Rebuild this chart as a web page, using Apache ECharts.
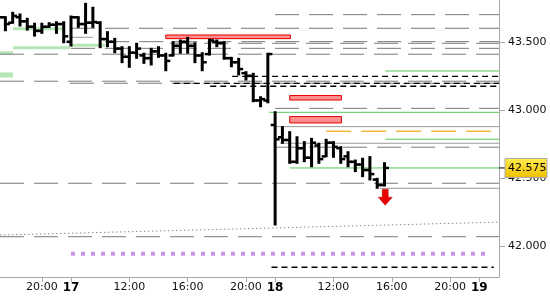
<!DOCTYPE html>
<html><head><meta charset="utf-8">
<script src="https://cdn.jsdelivr.net/npm/echarts@6/dist/echarts.min.js"></script>
<style>html,body{margin:0;padding:0;background:#fff}#c{width:550px;height:300px}</style>
</head><body><div id="c"></div>
<script>
// time slots: 30-minute bars, slot 0 = day 16 17:00, sessions 08:00-22:00
const xTickSlots = [6, 10, 18, 26, 34, 38, 46, 54, 62, 66];
const xTickLabels = ['20:00', '17', '12:00', '16:00', '20:00', '18', '12:00', '16:00', '20:00', '19'];
const dayLabels = ['17', '18', '19'];
const yTicks = [42.0, 42.5, 43.0, 43.5];

const opens  = [43.690,43.680,43.640,43.680,43.650,43.610,43.580,43.610,43.625,43.630,43.500,43.680,43.630,43.640,43.640,43.520,43.500,43.450,43.390,43.420,43.400,43.380,43.430,43.400,43.400,43.470,43.500,43.470,43.400,43.410,43.500,43.490,43.380,43.350,43.270,43.250,43.070,43.070,42.890,42.800,42.780,42.620,42.720,42.650,42.740,42.660,42.760,42.720,42.660,42.620,42.600,42.560,42.490,42.450];
const highs  = [43.700,43.684,43.716,43.704,43.672,43.636,43.636,43.640,43.647,43.647,43.689,43.684,43.782,43.753,43.647,43.574,43.525,43.464,43.464,43.489,43.416,43.452,43.464,43.416,43.501,43.513,43.533,43.493,43.420,43.518,43.513,43.501,43.386,43.379,43.281,43.269,43.097,43.416,42.987,42.878,42.841,42.804,42.768,42.792,42.756,42.785,42.768,42.731,42.694,42.633,42.646,42.658,42.499,42.614];
const lows   = [43.660,43.581,43.636,43.616,43.586,43.542,43.562,43.606,43.562,43.493,43.469,43.606,43.562,43.606,43.457,43.464,43.420,43.347,43.313,43.379,43.342,43.330,43.386,43.288,43.396,43.416,43.416,43.347,43.288,43.403,43.464,43.372,43.317,43.257,43.220,43.061,43.024,43.053,42.157,42.756,42.609,42.609,42.621,42.584,42.609,42.658,42.653,42.609,42.584,42.548,42.511,42.487,42.426,42.443];
const closes = [43.680,43.630,43.690,43.650,43.610,43.580,43.610,43.625,43.630,43.540,43.680,43.630,43.640,43.645,43.520,43.500,43.450,43.390,43.420,43.450,43.380,43.430,43.400,43.360,43.470,43.500,43.470,43.400,43.350,43.510,43.490,43.380,43.350,43.300,43.250,43.070,43.080,43.410,42.785,42.780,42.620,42.720,42.650,42.760,42.640,42.760,42.730,42.640,42.620,42.600,42.560,42.530,42.450,42.575];

const lastPrice = 42.575;

// horizontal levels: [price, fromSlot, toSlot]
const grayDashedLevels = [[43.699,38,68.71],[43.599,10,68.71],[43.501,14.7,68.71],[43.489,23.6,68.71],[43.452,10,68.71],[43.409,0.26,68.71],[43.211,0.26,68.71],[43.196,9.86,68.71],[43.012,38,68.71],[42.727,38,68.71],[42.463,0.26,68.71],[42.071,0.26,68.71]];
const graySolidLevels = [[43.533,10,13],[42.878,38,68.71],[42.756,38.7,68.71],[42.426,52.4,68.71]];
const greenLevels = [[43.286,53.1,68.71],[42.983,37.2,68.71],[42.786,53.1,68.71],[42.575,40,68.71]];
const orangeLevels = [[42.844,45,67.8]];
const blackDashedLevels = [[43.247,32.1,68.71],[43.195,24.1,68.71],[43.174,29.1,68.71],[41.847,37.5,68.0]];
const lightGreenLevels = [[43.596,2.04,9.2],[43.457,2.04,9.86],[43.474,10,14.7],[43.420,0.26,2.04]];
const lightGreenWideLevels = [[43.256,0.26,2.04]];
const purpleLevels = [[41.946,10,67.5]];
const trendLine = [[0.26,42.083],[68.71,42.178]];
// zones: [fromSlot, toSlot, priceTop, priceBottom]
const redZones = [[23.0,40.1,43.550,43.523],[40.0,47.1,43.106,43.073],[40.0,47.1,42.952,42.905]];
const arrowAt = [[53.1, 42.419]];

const X_MIN = 0.26, X_MAX = 68.71;
const Y_MIN = 41.7756, Y_MAX = 43.8064;
const FONT = 'DejaVu Sans';

const series = [];
function addLevels(levels, style, z) {
  levels.forEach(l => {
    series.push({type:'line', data:[[l[1], l[0]], [l[2], l[0]]], showSymbol:false, silent:true,
      animation:false, lineStyle:style, z:z || 2});
  });
}
addLevels(lightGreenLevels, {color:'rgba(120,210,120,0.55)', width:3, type:'solid'}, 1);
addLevels(lightGreenWideLevels, {color:'rgba(120,210,120,0.55)', width:5, type:'solid'}, 1);
addLevels(grayDashedLevels, {color:'#7a7a7a', width:1, type:[24,10]});
addLevels(graySolidLevels, {color:'#9a9a9a', width:1, type:'solid'});
addLevels(greenLevels, {color:'#55c855', width:1, type:'solid'});
addLevels(orangeLevels, {color:'#f5b840', width:1.5, type:[25,10]});
addLevels(blackDashedLevels, {color:'#000', width:1.3, type:[6,4]});
addLevels(purpleLevels, {color:'#c994e6', width:4, type:[4,6], cap:'butt'});
series.push({type:'line', data:trendLine, showSymbol:false, silent:true, animation:false,
  lineStyle:{color:'#8a8a8a', width:1, type:[1.5,2.5]}});

series.push({
  type:'custom', animation:false, silent:true, z:3,
  data: redZones,
  renderItem(params, api) {
    const p1 = api.coord([api.value(0), api.value(2)]);
    const p2 = api.coord([api.value(1), api.value(3)]);
    return {type:'rect', shape:{x:p1[0], y:p1[1], width:p2[0]-p1[0], height:p2[1]-p1[1]},
      style:{fill:'#ff8f8f', stroke:'#e60000', lineWidth:1}};
  }
});

series.push({
  type:'custom', animation:false, silent:true, z:4,
  data: opens.map((o, i) => [i, o, highs[i], lows[i], closes[i]]),
  encode:{x:0, y:[1,2,3,4]},
  renderItem(params, api) {
    const x = api.value(0);
    const pH = api.coord([x, api.value(2)]), pL = api.coord([x, api.value(3)]);
    const pO = api.coord([x, api.value(1)]), pC = api.coord([x, api.value(4)]);
    return {type:'group', children:[
      {type:'line', shape:{x1:pH[0], y1:pH[1]-0.5, x2:pL[0], y2:pL[1]+0.5}, style:{stroke:'#000', lineWidth:3}},
      {type:'line', shape:{x1:pO[0]-4.5, y1:pO[1], x2:pO[0], y2:pO[1]}, style:{stroke:'#000', lineWidth:2.5}},
      {type:'line', shape:{x1:pC[0], y1:pC[1], x2:pC[0]+4.5, y2:pC[1]}, style:{stroke:'#000', lineWidth:2.5}}
    ]};
  }
});

series.push({
  type:'custom', animation:false, silent:true, z:5,
  data: arrowAt,
  renderItem(params, api) {
    const p = api.coord([api.value(0), api.value(1)]);
    const x = p[0], y = p[1];
    return {type:'polygon', shape:{points:[[x-3,y],[x+3,y],[x+3,y+8],[x+7,y+8],[x,y+16],[x-7,y+8],[x-3,y+8]]},
      style:{fill:'#e80000', stroke:'#c00000', lineWidth:0.5}};
  }
});

series.push({
  type:'custom', animation:false, silent:true, z:10, clip:false,
  data: [[X_MAX, lastPrice]],
  renderItem(params, api) {
    const p = api.coord([api.value(0), api.value(1)]);
    const x = p[0], y = p[1];
    return {type:'group', children:[
      {type:'line', shape:{x1:x, y1:y, x2:x+6, y2:y}, style:{stroke:'#000', lineWidth:1}},
      {type:'rect', shape:{x:x+6, y:y-9.5, width:42, height:19},
        style:{fill:new echarts.graphic.LinearGradient(0,0,0,1,[{offset:0,color:'#ffec50'},{offset:1,color:'#f0c000'}]), stroke:'#a8a8a8', lineWidth:1}},
      {type:'text', style:{x:x+9, y:y, text:lastPrice.toFixed(3), fill:'#000', font:'11px "'+FONT+'"', verticalAlign:'middle', align:'left'}}
    ]};
  }
});

const chart = echarts.init(document.getElementById('c'), null, {renderer:'canvas'});
chart.setOption({
  animation:false,
  backgroundColor:'#fff',
  grid:{left:0, right:51, top:0, bottom:23, containLabel:false},
  xAxis:{type:'value', min:X_MIN, max:X_MAX,
    axisLine:{show:true, lineStyle:{color:'#a8a8a8', width:1}},
    axisTick:{show:true, customValues:xTickSlots, length:5, lineStyle:{color:'#a8a8a8'}},
    axisLabel:{customValues:xTickSlots, margin:5, color:'#111', fontFamily:FONT, fontSize:11,
      formatter:v => { const i = xTickSlots.indexOf(Math.round(v)); const t = xTickLabels[i];
        return dayLabels.includes(t) ? '{b|'+t+'}' : t; },
      rich:{b:{fontWeight:'bold', fontFamily:FONT, fontSize:12, color:'#000'}}},
    splitLine:{show:false}},
  yAxis:{type:'value', position:'right', min:Y_MIN, max:Y_MAX, scale:true,
    axisLine:{show:true, lineStyle:{color:'#a8a8a8', width:1}},
    axisTick:{show:true, customValues:yTicks, length:6, lineStyle:{color:'#a8a8a8'}},
    axisLabel:{customValues:yTicks, margin:9, color:'#111', fontFamily:FONT, fontSize:11,
      formatter:v => v.toFixed(3)},
    splitLine:{show:false}},
  series
});
</script></body></html>
